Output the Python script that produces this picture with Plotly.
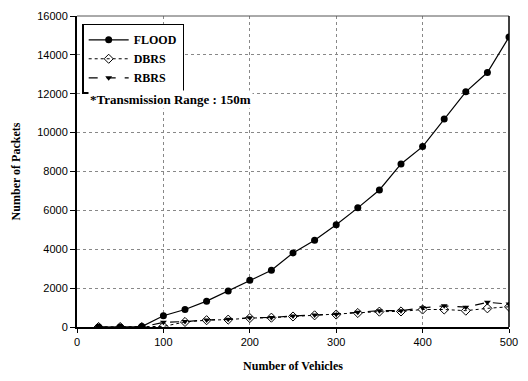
import plotly.graph_objects as go

vehicles = [25, 50, 75, 100, 125, 150, 175, 200, 225, 250, 275, 300, 325, 350, 375, 400, 425, 450, 475, 500]
flood = [0, 0, 20, 580, 900, 1330, 1850, 2410, 2920, 3810, 4460, 5260, 6130, 7050, 8390, 9280, 10700, 12100, 13090, 14920]
dbrs = [0, 0, 0, 30, 260, 350, 380, 460, 480, 540, 600, 640, 720, 790, 800, 900, 900, 840, 960, 1040]
rbrs = [0, 0, 0, 240, 280, 360, 400, 480, 490, 570, 620, 660, 760, 840, 840, 990, 1090, 1020, 1270, 1180]
y_ticks = list(range(0, 16001, 2000))
y_ticktext = [str(v) for v in y_ticks]
x_ticks = [0, 100, 200, 300, 400, 500]

serif = "Liberation Serif"
sans = "Liberation Sans"

fig = go.Figure()
fig.add_trace(go.Scatter(x=vehicles, y=flood, name="<b>FLOOD</b>", mode="lines+markers",
                         line=dict(color="black", width=1.2),
                         marker=dict(symbol="circle", size=7, color="black")))
fig.add_trace(go.Scatter(x=vehicles, y=dbrs, name="<b>DBRS</b>", mode="lines+markers",
                         line=dict(color="black", width=1, dash="dot"),
                         marker=dict(symbol="diamond-open", size=7, color="black", line=dict(width=1))))
fig.add_trace(go.Scatter(x=vehicles, y=rbrs, name="<b>RBRS</b>", mode="lines+markers",
                         line=dict(color="black", width=1.2, dash="dash"),
                         marker=dict(symbol="triangle-down", size=6, color="black")))

fig.update_layout(
    width=528, height=381,
    margin=dict(l=77, r=10, t=15, b=54),
    plot_bgcolor="white", paper_bgcolor="white",
    showlegend=True,
    legend=dict(x=0.012, y=0.975, xanchor="left", yanchor="top",
                bgcolor="white", bordercolor="black", borderwidth=1.5,
                font=dict(family=serif, size=12, color="black"),
                itemwidth=40, tracegroupgap=0),
    xaxis=dict(range=[0, 500], tickvals=x_ticks,
               showgrid=True, gridcolor="#888", griddash="dot", gridwidth=1,
               showline=True, linecolor="black", linewidth=2, mirror=False,
               ticks="outside", ticklen=4, tickcolor="black",
               tickfont=dict(family=sans, size=11, color="black"),
               title=dict(text="<b>Number of Vehicles</b>", font=dict(family=serif, size=12, color="black"), standoff=14),
               zeroline=False),
    yaxis=dict(range=[0, 16000], tickvals=y_ticks, ticktext=y_ticktext,
               showgrid=True, gridcolor="#888", griddash="dot", gridwidth=1,
               showline=True, linecolor="black", linewidth=2,
               ticks="outside", ticklen=5, tickcolor="black",
               tickfont=dict(family=sans, size=11, color="black"),
               title=dict(text="<b>Number of Packets</b>", font=dict(family=serif, size=12, color="black"), standoff=14),
               zeroline=False),
    shapes=[
        dict(type="line", xref="paper", yref="paper", x0=0, x1=1, y0=1, y1=1, line=dict(color="#555", width=1)),
        dict(type="line", xref="paper", yref="paper", x0=1, x1=1, y0=0, y1=1, line=dict(color="black", width=1.5)),
    ],
    annotations=[
        dict(text="<b>*Transmission Range : 150m</b>", x=0.025, y=0.73, xref="paper", yref="paper",
             xanchor="left", yanchor="middle", showarrow=False,
             font=dict(family=serif, size=13, color="black"), bgcolor="white"),
    ],
)

fig.write_html("out.html")
